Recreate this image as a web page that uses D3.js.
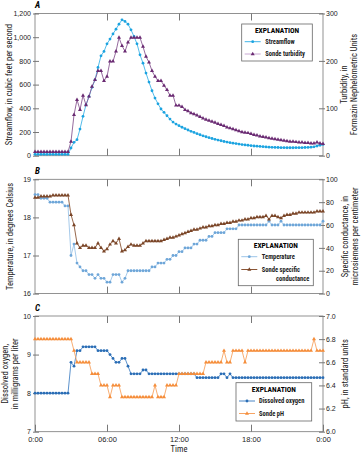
<!DOCTYPE html>
<html>
<head>
<meta charset="utf-8">
<script src="https://cdn.jsdelivr.net/npm/d3@7"></script>
<style>
  html, body { margin: 0; padding: 0; background: #fff; }
  svg { display: block; font-family: "Liberation Sans Narrow", "Arial Narrow", "Roboto Condensed", "DejaVu Sans Condensed", sans-serif; }
  .axis text { font-size: 7px; fill: #222; }
  .axis line { stroke: #555; stroke-width: 0.8; }
  .axis .domain { display: none; }
</style>
</head>
<body>
<div id="chart"></div>
<script>
// 15-minute readings, 0:00 to 0:00 the next day (97 samples each)
var streamflow = [
  12, 12, 12, 12, 12, 12, 12, 12, 12, 12, 12, 12,
  65, 113, 135, 225, 332, 430, 500, 577, 640, 745, 843, 880, 944, 984, 1028, 1068, 1110, 1147,
  1133, 1110, 1062, 1006, 944, 851, 781, 697, 621, 548, 486, 438, 394, 366, 337, 309, 284, 267, 253,
  240, 228, 217, 206, 196, 186, 177, 168, 160, 152,
  145, 138, 132, 126, 120, 115, 110, 106, 102, 98,
  94, 91, 88, 85, 82, 80, 78, 76, 74, 72,
  71, 70, 69, 68, 68, 67, 67, 67, 68, 68,
  68, 69, 70, 72, 75, 82, 88, 95
];
var turbidity = [
  8, 8, 8, 8, 8, 8, 8, 8, 8, 8, 8, 8,
  30, 86, 118, 97, 127, 107, 125, 146, 160, 179, 179, 158, 167, 199, 199, 220, 249, 232,
  220, 239, 249, 249, 249, 249, 230, 209, 197, 179, 167, 158, 158, 148, 139, 127, 127, 106, 106,
  103, 97, 94, 90, 88, 85, 82, 79, 76, 74,
  72, 70, 67, 65, 63, 60, 58, 56, 54, 52,
  50, 49, 48, 46, 44, 43, 41, 40, 39, 37,
  36, 35, 34, 33, 32, 31, 30, 30, 29, 28,
  28, 27, 27, 26, 26, 28, 26, 25
];
var temperature = [
  18.6, 18.6, 18.5, 18.5, 18.5, 18.4, 18.4, 18.4, 18.4, 18.4, 18.3, 18.3,
  17.0, 17.3, 16.8, 16.7, 16.6, 16.6, 16.5, 16.5, 16.4, 16.5, 16.4, 16.4, 16.3, 16.3, 16.5, 16.5, 16.5, 16.3, 16.4,
  16.6, 16.6, 16.6, 16.6, 16.6, 16.6, 16.6, 16.6, 16.7, 16.7,
  16.8, 16.8, 16.8, 16.9, 16.9, 17.0, 17.0, 17.1, 17.1, 17.2,
  17.2, 17.2, 17.3, 17.3, 17.4, 17.4, 17.4, 17.5, 17.5, 17.6,
  17.6, 17.6, 17.6, 17.7, 17.7, 17.7, 17.7, 17.8, 17.8, 17.8,
  17.8, 17.8, 17.8, 17.8, 17.8, 17.8, 17.8, 17.9, 17.8, 17.8,
  17.8, 17.9, 17.8, 17.8, 17.8, 17.8, 17.8, 17.8, 17.8, 17.8,
  17.8, 17.8, 17.8, 17.8, 17.8, 17.9
];
var conductance = [
  84, 84, 85, 85, 85, 85, 86, 86, 86, 86, 86, 86,
  69, 60, 44, 40, 42, 42, 40, 40, 40, 44, 40, 37, 39, 43, 46, 44, 48, 37,
  38, 41, 43, 42, 42, 42, 44, 46, 46, 46, 46, 46, 46, 47, 48, 49,
  49, 50, 51, 52, 53, 54, 55, 56, 56, 57,
  58, 58, 59, 59, 60, 60, 61, 61, 62, 62,
  63, 63, 64, 64, 65, 65, 66, 66, 67, 67,
  67, 68, 65, 68, 68, 67, 66, 68, 69, 69,
  70, 70, 71, 71, 71, 71, 71, 71, 72, 72, 72
];
var dissolvedOxygen = [
  8.0, 8.0, 8.0, 8.0, 8.0, 8.0, 8.0, 8.0, 8.0, 8.0, 8.0, 8.0,
  8.8, 8.7, 9.1, 9.1, 9.2, 9.2, 9.2, 9.2, 9.2, 9.1, 9.1, 9.1, 9.1, 9.0, 8.9, 8.8, 8.8, 8.9, 8.9,
  8.7, 8.5, 8.5, 8.5, 8.5, 8.6, 8.6, 8.5, 8.5, 8.5,
  8.5, 8.5, 8.5, 8.5, 8.5, 8.5, 8.5, 8.5, 8.5, 8.5,
  8.5, 8.5, 8.5, 8.4, 8.4, 8.4, 8.4, 8.4, 8.4, 8.4,
  8.4, 8.5, 8.5, 8.4, 8.5, 8.4, 8.4, 8.4, 8.4, 8.4,
  8.4, 8.4, 8.4, 8.4, 8.4, 8.4, 8.4, 8.4, 8.4, 8.4,
  8.4, 8.4, 8.4, 8.4, 8.4, 8.4, 8.4, 8.4, 8.4, 8.4,
  8.4, 8.4, 8.4, 8.4, 8.4, 8.4
];
var sondePH = [
  6.8, 6.8, 6.8, 6.8, 6.8, 6.8, 6.8, 6.8, 6.8, 6.8, 6.8, 6.8, 6.8,
  6.7, 6.6, 6.6, 6.6, 6.6, 6.6, 6.5, 6.5, 6.5, 6.4, 6.4, 6.4, 6.3, 6.4, 6.4, 6.4,
  6.3, 6.3, 6.3, 6.3, 6.3, 6.3, 6.3, 6.3, 6.3, 6.3, 6.3,
  6.4, 6.3, 6.3, 6.3, 6.4, 6.4, 6.4, 6.4,
  6.5, 6.5, 6.5, 6.5, 6.5, 6.5, 6.5, 6.5, 6.5,
  6.6, 6.6, 6.6, 6.6, 6.6, 6.6, 6.7, 6.6, 6.6, 6.7, 6.7, 6.7, 6.7, 6.6,
  6.7, 6.7, 6.7, 6.7, 6.7, 6.7, 6.7, 6.7, 6.7, 6.7, 6.7,
  6.7, 6.7, 6.7, 6.7, 6.7, 6.7, 6.7, 6.7, 6.7, 6.7, 6.7,
  6.8, 6.7, 6.7, 6.7
];
var hours = d3.range(streamflow.length).map(function (i) { return i / 4; });
var timeTicks = [0, 6, 12, 18, 24];
var timeLabels = ['0:00', '06:00', '12:00', '18:00', '0:00'];

var W = 361, H = 455;
var LEFT = 35, RIGHT = 323;

var svg = d3.select('#chart').append('svg').attr('width', W).attr('height', H);
var x = d3.scaleLinear().domain([0, 24]).range([LEFT, RIGHT]);

function marker(sel, shape, color) {
  if (shape === 'circle') {
    sel.append('circle').attr('r', 1.4).attr('fill', color);
  } else {
    sel.append('path').attr('d', d3.symbol().type(d3.symbolTriangle).size(7)()).attr('fill', color);
  }
}

function drawPanel(p) {
  var g = svg.append('g');
  var yl = d3.scaleLinear().domain(p.leftDomain).range([p.bottom, p.top]);
  var yr = d3.scaleLinear().domain(p.rightDomain).range([p.bottom, p.top]);

  // left and right axes, ticks crossing the frame
  var la = g.append('g').attr('class', 'axis').attr('transform', 'translate(' + LEFT + ',0)')
    .call(d3.axisLeft(yl).tickValues(p.leftTicks).tickFormat(p.leftFormat).tickSizeInner(-4).tickSizeOuter(0).tickPadding(4));
  la.selectAll('line').attr('x1', -2);
  var ra = g.append('g').attr('class', 'axis').attr('transform', 'translate(' + RIGHT + ',0)')
    .call(d3.axisRight(yr).tickValues(p.rightTicks).tickFormat(p.rightFormat).tickSizeInner(-4).tickSizeOuter(0).tickPadding(3));
  ra.selectAll('line').attr('x1', 2);

  // time ticks along top and bottom, pointing inward
  g.append('g').attr('class', 'axis').attr('transform', 'translate(0,' + p.top + ')')
    .call(d3.axisTop(x).tickValues([6, 12, 18]).tickFormat('').tickSizeInner(-7).tickSizeOuter(0));
  var bx = g.append('g').attr('class', 'axis').attr('transform', 'translate(0,' + p.bottom + ')')
    .call(d3.axisBottom(x).tickValues(p.showTime ? timeTicks : [6, 12, 18])
      .tickFormat(function (d, i) { return p.showTime ? timeLabels[i] : ''; })
      .tickSizeInner(-7).tickSizeOuter(0).tickPadding(4.5));
  bx.selectAll('text').style('font-size', '7.5px');

  g.append('rect').attr('x', LEFT).attr('y', p.top).attr('width', RIGHT - LEFT).attr('height', p.bottom - p.top)
    .attr('fill', 'none').attr('stroke', '#777').attr('stroke-width', 0.8);

  // series
  p.series.forEach(function (s) {
    var y = s.side === 'left' ? yl : yr;
    var pts = s.values.map(function (v, i) { return [hours[i], v]; });
    g.append('path').datum(pts)
      .attr('fill', 'none').attr('stroke', s.line).attr('stroke-width', 0.9)
      .attr('d', d3.line().x(function (d) { return x(d[0]); }).y(function (d) { return y(d[1]); }));
    var m = g.append('g').selectAll('g').data(pts).enter().append('g')
      .attr('transform', function (d) { return 'translate(' + x(d[0]) + ',' + y(d[1]) + ')'; });
    marker(m, s.shape, s.color);
  });

  // panel letter
  svg.append('text').attr('x', 35).attr('y', p.top - 5.5)
    .style('font-size', '9px').style('font-weight', 'bold').style('font-style', 'italic').text(p.letter);

  // axis titles
  var mid = (p.top + p.bottom) / 2;
  p.leftTitle.concat(p.rightTitle).forEach(function (t) {
    svg.append('text').attr('transform', 'translate(' + t.x + ',' + mid + ') rotate(-90)')
      .attr('text-anchor', 'middle').attr('dy', '0.35em').style('font-size', '8.5px').attr('fill', '#222').text(t.text);
  });

  // explanation box
  var L = p.legend;
  var lg = svg.append('g');
  lg.append('rect').attr('x', L.x).attr('y', L.y).attr('width', L.w).attr('height', L.h)
    .attr('fill', '#fff').attr('stroke', '#666').attr('stroke-width', 0.8);
  lg.append('text').attr('x', L.x + L.w / 2).attr('y', L.y + 6.5).attr('dy', '0.35em').attr('text-anchor', 'middle')
    .style('font-size', '7.5px').style('font-weight', 'bold').text('EXPLANATION');
  p.series.forEach(function (s, i) {
    var yy = L.rows[i];
    lg.append('line').attr('x1', L.x + 3).attr('x2', L.x + 19).attr('y1', yy).attr('y2', yy)
      .attr('stroke', s.legendLine || s.line).attr('stroke-width', 1);
    var mk = lg.append('g').attr('transform', 'translate(' + (L.x + 11) + ',' + yy + ')');
    marker(mk, s.shape, s.color);
    s.label.forEach(function (t, j) {
      lg.append('text').attr('x', j === 0 ? L.x + L.tx : L.x + L.w - 4).attr('y', yy + j * 9.5).attr('dy', '0.35em')
        .attr('text-anchor', j === 0 ? 'start' : 'end')
        .style('font-size', '6.5px').style('font-weight', 'bold').attr('fill', '#222').text(t);
    });
  });
}

drawPanel({
  letter: 'A', top: 13.5, bottom: 155.7,
  leftDomain: [0, 1200], leftTicks: [0, 200, 400, 600, 800, 1000, 1200], leftFormat: d3.format(','),
  rightDomain: [0, 300], rightTicks: [0, 100, 200, 300], rightFormat: d3.format('d'),
  leftTitle: [{ x: 9, text: 'Streamflow, in cubic feet per second' }],
  rightTitle: [{ x: 344, text: 'Turbidity, in' }, { x: 354, text: 'Formazin Nephelometric Units' }],
  series: [
    { values: streamflow, side: 'left', shape: 'circle', color: '#1ba3e0', line: '#41b4e8', label: ['Streamflow'] },
    { values: turbidity, side: 'right', shape: 'triangle', color: '#6a2a72', line: '#8a5a93', legendLine: '#c8a8d2', label: ['Sonde turbidity'] }
  ],
  legend: { x: 241.7, y: 24, w: 70.6, h: 37, tx: 23.5, rows: [41.7, 54] }
});

drawPanel({
  letter: 'B', top: 179.3, bottom: 293.6,
  leftDomain: [16, 19], leftTicks: [16, 17, 18, 19], leftFormat: d3.format('d'),
  rightDomain: [0, 100], rightTicks: [0, 20, 40, 60, 80, 100], rightFormat: d3.format('d'),
  leftTitle: [{ x: 10.5, text: 'Temperature, in degrees Celsius' }],
  rightTitle: [{ x: 345, text: 'Specific conductance, in' }, { x: 355, text: 'microsiemens per centimeter' }],
  series: [
    { values: temperature, side: 'left', shape: 'circle', color: '#6ea6d8', line: '#9cc4e8', label: ['Temperature'] },
    { values: conductance, side: 'right', shape: 'triangle', color: '#7a4527', line: '#8a5535', label: ['Sonde specific', 'conductance'] }
  ],
  legend: { x: 238.3, y: 239.3, w: 75, h: 46.4, tx: 23.5, rows: [256.7, 269.5] }
});

drawPanel({
  letter: 'C', top: 316, bottom: 431.7, showTime: true,
  leftDomain: [7, 10], leftTicks: [7, 8, 9, 10], leftFormat: d3.format('d'),
  rightDomain: [6, 7], rightTicks: [6.0, 6.2, 6.4, 6.6, 6.8, 7.0], rightFormat: d3.format('.1f'),
  leftTitle: [{ x: 5.5, text: 'Dissolved oxygen,' }, { x: 15.5, text: 'in milligrams per liter' }],
  rightTitle: [{ x: 345, text: 'pH, in standard units' }],
  series: [
    { values: dissolvedOxygen, side: 'left', shape: 'circle', color: '#2a6db5', line: '#4a86c6', label: ['Dissolved oxygen'] },
    { values: sondePH, side: 'right', shape: 'triangle', color: '#f58d3a', line: '#f7a463', label: ['Sonde pH'] }
  ],
  legend: { x: 236, y: 382.7, w: 75.7, h: 38.3, tx: 23, rows: [401, 413.5] }
});

svg.append('text').attr('x', x(12)).attr('y', 449.5).attr('dy', '0.35em').attr('text-anchor', 'middle')
  .style('font-size', '8.5px').attr('fill', '#222').text('Time');
</script>
</body>
</html>
